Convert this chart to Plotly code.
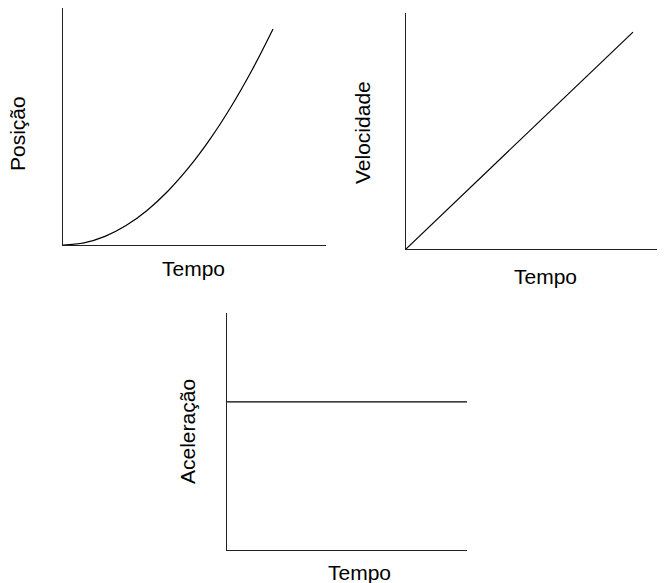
import plotly.graph_objects as go

# Data
tempo = [0, 1, 2, 3, 4, 5, 6, 7, 8, 9, 10]
posicao = [0, 1, 4, 9, 16, 25, 36, 49, 64, 81, 100]
tempo_v = [0, 10]
velocidade = [0, 10]
tempo_a = [0, 10]
aceleracao = [1, 1]

FONT = "Liberation Sans, Arial, sans-serif"
W, H = 665, 583
OFF = 8  # browser body margin

def fx(px):
    return (px - OFF) / W

def fy(py):
    return 1 - (py - OFF) / H

fig = go.Figure()
line = dict(color="black", width=1.2)
fig.add_trace(go.Scatter(x=tempo, y=posicao, mode="lines", line=dict(color="black", width=1.2, shape="spline"),
                         xaxis="x", yaxis="y", showlegend=False, hoverinfo="skip"))
fig.add_trace(go.Scatter(x=tempo_v, y=velocidade, mode="lines", line=line,
                         xaxis="x2", yaxis="y2", showlegend=False, hoverinfo="skip"))
fig.add_trace(go.Scatter(x=tempo_a, y=aceleracao, mode="lines", line=line,
                         xaxis="x3", yaxis="y3", showlegend=False, hoverinfo="skip"))

ax = dict(showline=True, linecolor="#222", linewidth=1.3, showgrid=False, zeroline=False,
          showticklabels=False, ticks="", fixedrange=True)

fig.update_layout(
    width=W, height=H,
    margin=dict(l=0, r=0, t=0, b=0),
    paper_bgcolor="white", plot_bgcolor="white",
    font=dict(family=FONT, size=21, color="black"),
    xaxis=dict(ax, domain=[fx(63), fx(326)], range=[0, 12.52], anchor="y"),
    yaxis=dict(ax, domain=[fy(245), fy(8)], range=[0, 109.7], anchor="x"),
    xaxis2=dict(ax, domain=[fx(406), fx(665)], range=[0, 11.41], anchor="y2"),
    yaxis2=dict(ax, domain=[fy(249), fy(13)], range=[0, 10.88], anchor="x2"),
    xaxis3=dict(ax, domain=[fx(227), fx(467)], range=[0, 10], anchor="y3"),
    yaxis3=dict(ax, domain=[fy(550), fy(313)], range=[0, 1.6], anchor="x3"),
)

def ann(text, px, py, angle=0):
    fig.add_annotation(text=text, x=fx(px), y=fy(py), xref="paper", yref="paper",
                       showarrow=False, textangle=angle, xanchor="center", yanchor="middle",
                       font=dict(family=FONT, size=21, color="black"))

ann("Tempo", 194, 268)
ann("Posição", 17, 134, -90)
ann("Tempo", 545, 276)
ann("Velocidade", 363, 133, -90)
ann("Tempo", 360, 572)
ann("Aceleração", 187, 432, -90)

fig.write_html("out.html")
